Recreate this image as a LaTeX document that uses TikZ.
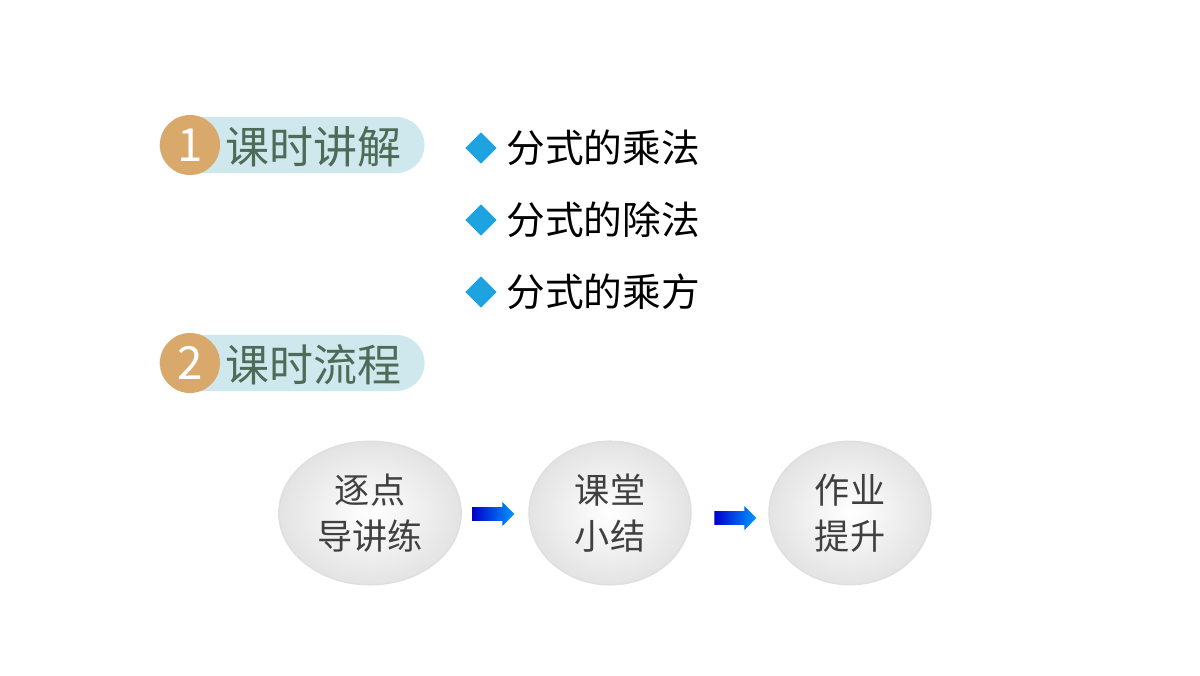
\documentclass[tikz,border=0pt]{standalone}
\usepackage{fontspec}
\setmainfont{Noto Sans CJK SC}
\usetikzlibrary{positioning,shapes.geometric,shapes.arrows}
\definecolor{pillblue}{HTML}{CFE8EE}
\definecolor{badgetan}{HTML}{D9A86B}
\definecolor{titlegreen}{HTML}{4E6B58}
\definecolor{diablue}{HTML}{1DA3E0}
\tikzset{
  pill/.style={fill=pillblue, rounded corners=0.28cm, minimum width=2.65cm, minimum height=0.56cm},
  badge/.style={circle, fill=badgetan, minimum size=0.6cm, inner sep=0pt, text=white, font=\fontsize{13}{13}\selectfont},
  title/.style={text=titlegreen, font=\fontsize{12.5}{13}\selectfont, anchor=west, inner sep=0pt},
  dia/.style={diamond, fill=diablue, minimum size=0.32cm, inner sep=0pt},
  item/.style={font=\fontsize{11}{12}\selectfont, anchor=west, inner sep=0pt},
  stepoval/.style={ellipse, minimum width=1.62cm, minimum height=1.22cm, draw=gray!25,
    inner color=white, outer color=gray!22, align=center, text=black!75,
    font=\fontsize{10}{13}\selectfont},
  flowarrow/.style={single arrow, minimum height=0.42cm, minimum width=0.24cm, inner sep=0.06cm,
    single arrow head extend=0.05cm, left color=blue!80!black, right color=cyan!60!blue}
}
\begin{document}
\begin{tikzpicture}[x=0.01cm,y=-0.01cm]
  \useasboundingbox (0,0) rectangle (1200,675);
  % Headings
  \node (p1) [pill] at (292,145) {};
  \node (b1) [badge] at (190,145) {1};
  \node (t1) [title] at (225,147) {课时讲解};
  \node (p2) [pill] at (292,363) {};
  \node (b2) [badge] at (190,363) {2};
  \node (t2) [title] at (225,365) {课时流程};
  % Bullets
  \node (d1) [dia] at (481,148) {};
  \node (i1) [item, right=0.08cm of d1] {分式的乘法};
  \node (d2) [dia] at (481,220) {};
  \node (i2) [item, right=0.08cm of d2] {分式的除法};
  \node (d3) [dia] at (481,292) {};
  \node (i3) [item, right=0.08cm of d3] {分式的乘方};
  % Flow
  \node (s1) [stepoval] at (370,513) {逐点\\导讲练};
  \node (s2) [stepoval] at (610,513) {课堂\\小结};
  \node (s3) [stepoval] at (850,513) {作业\\提升};
  \node (a1) [flowarrow] at (490,514) {};
  \node (a2) [flowarrow] at (732,518) {};
\end{tikzpicture}
\end{document}
